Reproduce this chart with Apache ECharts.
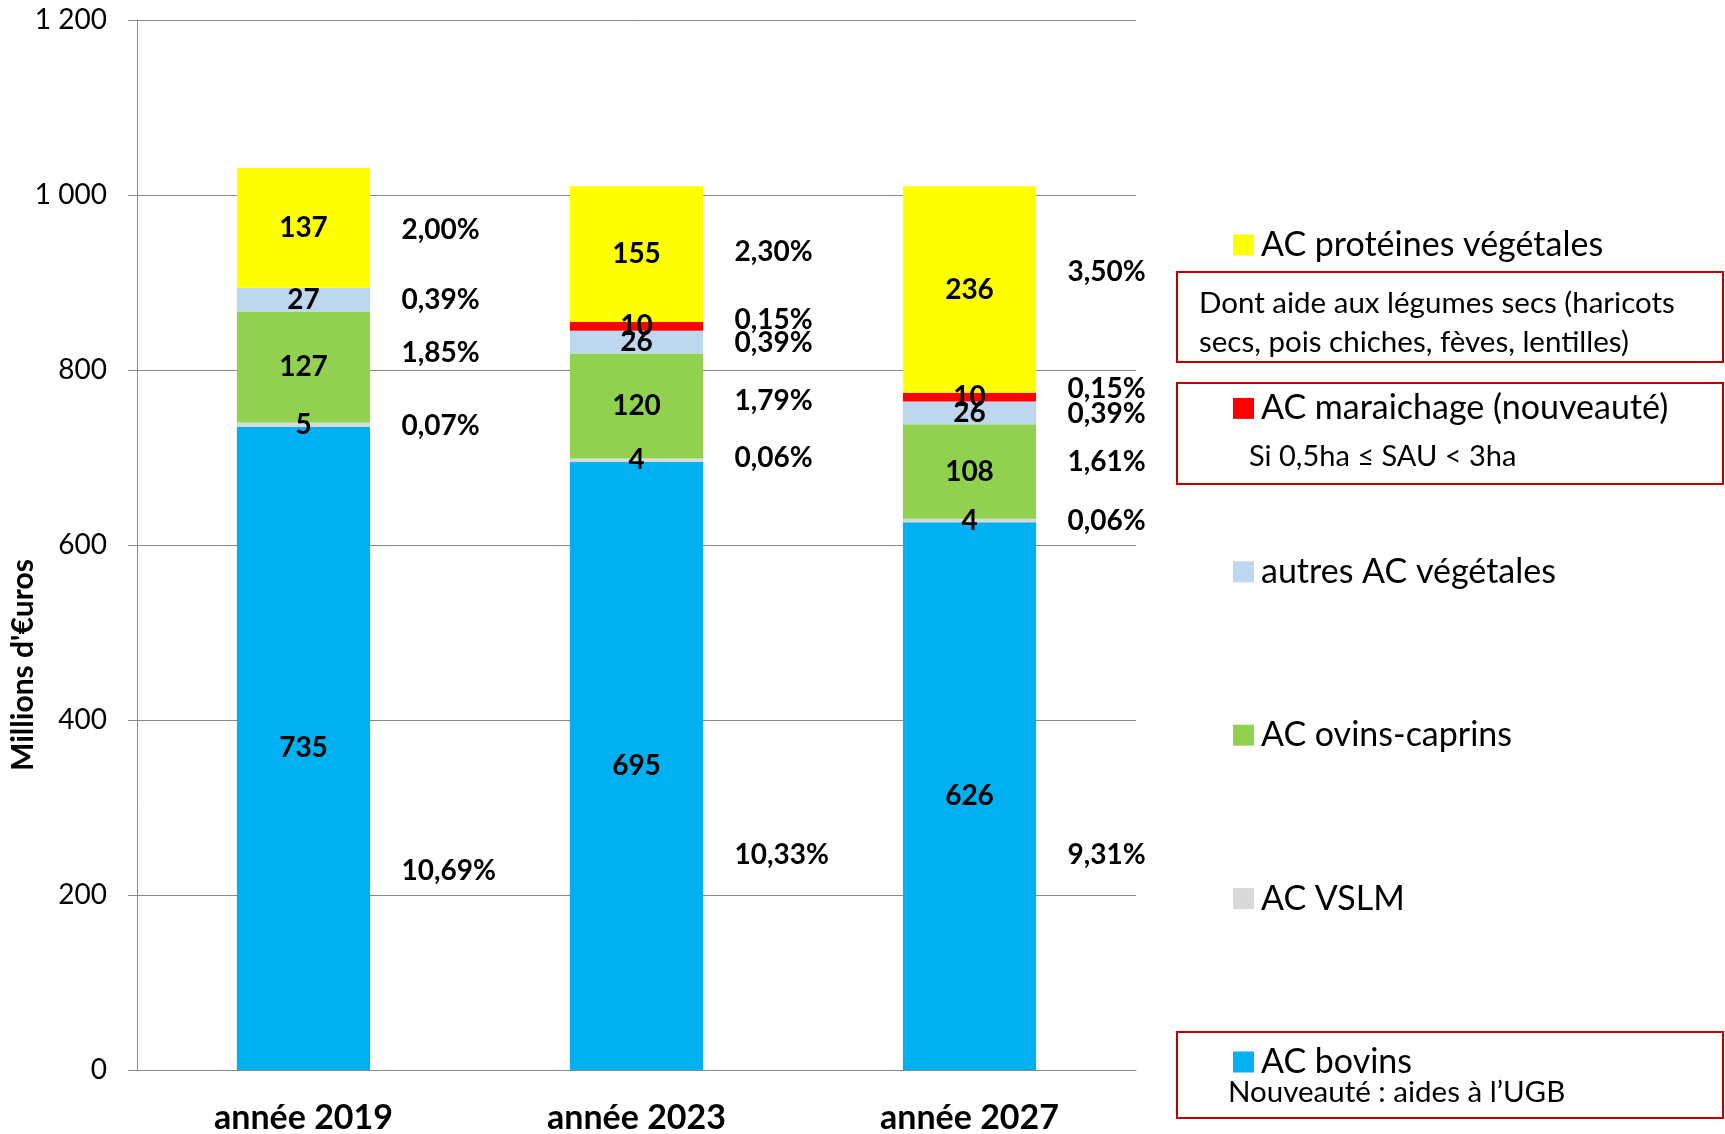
<!DOCTYPE html>
<html>
<head>
<meta charset="utf-8">
<script src="https://cdn.jsdelivr.net/npm/echarts@6/dist/echarts.min.js"></script>
<style>
  html, body { margin: 0; padding: 0; background: #fff; }
  #chart { width: 1725px; height: 1134px; }
</style>
</head>
<body>
<div id="chart"></div>
<script>
// catégories et montants (millions d'euros)
const years = ['année 2019', 'année 2023', 'année 2027'];
const bovins = [735, 695, 626];
const vslm = [5, 4, 4];
const ovins = [127, 120, 108];
const autres = [27, 26, 26];
const maraichage = [0, 10, 10];
const proteines = [137, 155, 236];

// pourcentages affichés à droite des barres : [année, hauteur (M€), texte]
const pctLabels = [
  [0, 960, '2,00%'], [0, 880, '0,39%'], [0, 819, '1,85%'], [0, 736, '0,07%'], [0, 228, '10,69%'],
  [1, 935, '2,30%'], [1, 857, '0,15%'], [1, 831, '0,39%'], [1, 765, '1,79%'], [1, 700, '0,06%'], [1, 246, '10,33%'],
  [2, 912, '3,50%'], [2, 778, '0,15%'], [2, 750, '0,39%'], [2, 695, '1,61%'], [2, 628, '0,06%'], [2, 246, '9,31%']
];

const legendOrder = ['AC protéines végétales', 'AC maraichage (nouveauté)', 'autres AC végétales',
  'AC ovins-caprins', 'AC VSLM', 'AC bovins'];

const FONT = 'Lato';
const GREY = '#868686';
const BOX = '#c00000';

const chart = echarts.init(document.getElementById('chart'));

const barLabel = {
  show: true,
  position: 'inside',
  color: '#000',
  fontFamily: FONT,
  fontWeight: 'bold',
  fontSize: 28,
  formatter: p => (p.value ? p.value : '')
};

function bar(name, data, color) {
  return {
    name, type: 'bar', stack: 'total', data,
    barWidth: '40%',
    itemStyle: { color },
    label: barLabel,
    emphasis: { disabled: true }
  };
}

chart.setOption({
  animation: false,
  grid: { left: 137, right: 589, top: 20, bottom: 64, outerBoundsMode: 'none' },
  legend: {
    data: legendOrder,
    orient: 'vertical',
    left: 1233,
    top: 228,
    padding: 0,
    itemWidth: 21,
    itemHeight: 21,
    itemGap: 129.4,
    icon: 'rect',
    selectedMode: false,
    textStyle: { fontFamily: FONT, fontSize: 34, lineHeight: 34, color: '#000', padding: [0, 0, 0, 2] }
  },
  xAxis: {
    type: 'category',
    data: years,
    axisLine: { lineStyle: { color: GREY } },
    axisTick: { length: 12, lineStyle: { color: GREY } },
    axisLabel: { color: '#000', fontFamily: FONT, fontWeight: 'bold', fontSize: 34, margin: 31 }
  },
  yAxis: {
    type: 'value',
    min: 0, max: 1200, interval: 200,
    name: "Millions d'€uros",
    nameLocation: 'middle',
    nameGap: 99,
    nameMoveOverlap: false,
    nameTextStyle: { color: '#000', fontFamily: FONT, fontWeight: 'bold', fontSize: 30, padding: [0, 240, 0, 0] },
    axisLine: { show: true, lineStyle: { color: GREY } },
    axisTick: { show: true, length: 9, lineStyle: { color: GREY } },
    splitLine: { lineStyle: { color: GREY } },
    axisLabel: {
      color: '#000', fontFamily: FONT, fontSize: 28, margin: 30,
      formatter: v => (v >= 1000 ? Math.floor(v / 1000) + ' ' + String(v % 1000).padStart(3, '0') : String(v))
    }
  },
  series: [
    bar('AC bovins', bovins, '#00b0f0'),
    bar('AC VSLM', vslm, '#d9d9d9'),
    bar('AC ovins-caprins', ovins, '#92d050'),
    bar('autres AC végétales', autres, '#bdd7ee'),
    bar('AC maraichage (nouveauté)', maraichage, '#ff0000'),
    bar('AC protéines végétales', proteines, '#ffff00'),
    {
      name: 'pct', type: 'custom',
      data: pctLabels,
      z: 5,
      silent: true,
      renderItem: (params, api) => {
        const pt = api.coord([api.value(0), api.value(1)]);
        return {
          type: 'text',
          x: pt[0] + 98,
          y: pt[1],
          style: {
            text: pctLabels[params.dataIndex][2],
            font: 'bold 28px Lato',
            fill: '#000',
            verticalAlign: 'middle',
            align: 'left'
          }
        };
      }
    }
  ],
  graphic: [
    { type: 'rect', shape: { x: 1177, y: 272, width: 546, height: 90 }, style: { fill: 'none', stroke: BOX, lineWidth: 2 } },
    { type: 'text', left: 1199, top: 284, style: {
        text: 'Dont aide aux légumes secs (haricots\nsecs, pois chiches, fèves, lentilles)',
        font: '29.5px Lato', fill: '#000', lineHeight: 39 } },
    { type: 'rect', shape: { x: 1177, y: 383, width: 546, height: 101 }, style: { fill: 'none', stroke: BOX, lineWidth: 2 } },
    { type: 'text', left: 1249, top: 442, style: { text: 'Si 0,5ha ≤ SAU < 3ha', font: '29px Lato', fill: '#000' } },
    { type: 'rect', shape: { x: 1177, y: 1032, width: 546, height: 86 }, style: { fill: 'none', stroke: BOX, lineWidth: 2 } },
    { type: 'text', left: 1228, top: 1077, style: { text: 'Nouveauté : aides à l’UGB', font: '29.5px Lato', fill: '#000' } }
  ]
});
</script>
</body>
</html>
